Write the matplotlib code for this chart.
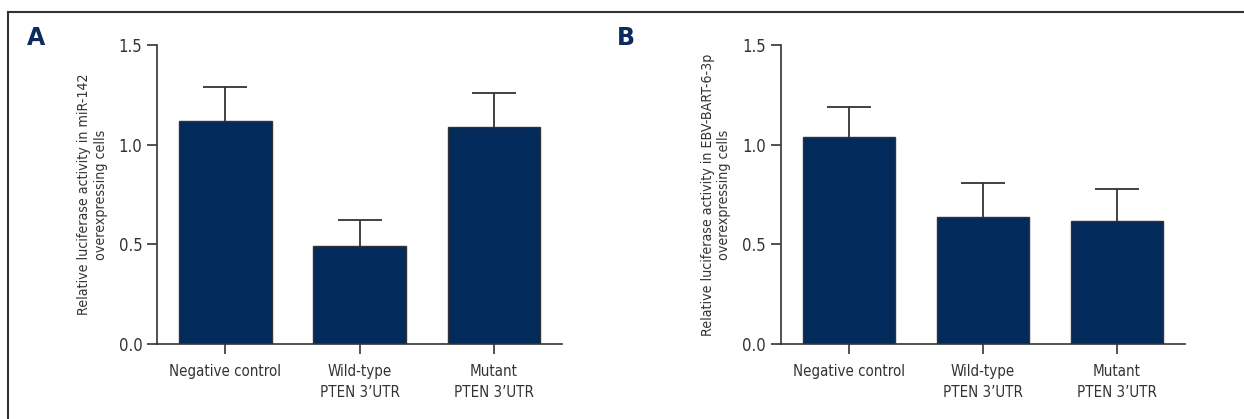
from matplotlib import pyplot as plt
from matplotlib.lines import Line2D

plt.rcParams['font.family'] = ['Liberation Sans Narrow', 'DejaVu Sans']
plt.rcParams['font.stretch'] = 'condensed'

groups = ["Negative control", "Wild-type\nPTEN 3\u2019UTR", "Mutant\nPTEN 3\u2019UTR"]

mir142_mean = [1.12, 0.49, 1.09]
mir142_err = [0.17, 0.13, 0.17]

bart_mean = [1.04, 0.635, 0.615]
bart_err = [0.15, 0.175, 0.165]

ylabel_a = "Relative luciferase activity in miR-142\noverexpressing cells"
ylabel_b = "Relative luciferase activity in EBV-BART-6-3p\noverexpressing cells"

bar_color = "#022a5a"
line_color = "#333333"


def draw_panel(ax, means, errs, ylabel):
    x = range(len(groups))
    ax.bar(x, means, width=0.69, color=bar_color, edgecolor=line_color, linewidth=1.0, zorder=2)
    eb = ax.errorbar(x, means, yerr=[[0] * len(errs), errs], fmt="none", ecolor=line_color,
                     elinewidth=1.3, capsize=16, capthick=1.3, zorder=1)
    eb[1][0].set_visible(False)  # no lower cap
    ax.set_xlim(-0.51, 2.51)
    ax.set_ylim(0, 1.5)
    ax.set_yticks([0.0, 0.5, 1.0, 1.5])
    ax.set_yticklabels(["0.0", "0.5", "1.0", "1.5"])
    ax.set_xticks(list(x))
    ax.set_xticklabels(groups, linespacing=1.45)
    ax.spines["top"].set_visible(False)
    ax.spines["right"].set_visible(False)
    for s in ("left", "bottom"):
        ax.spines[s].set_color(line_color)
        ax.spines[s].set_linewidth(1.2)
    ax.spines["bottom"].set_zorder(3)
    ax.tick_params(axis="y", length=7.5, width=1.2, color=line_color, labelcolor=line_color,
                   labelsize=12, pad=3)
    ax.tick_params(axis="x", length=7.5, width=1.2, color=line_color, labelcolor=line_color,
                   labelsize=10.8, pad=7)
    ax.set_ylabel(ylabel, fontsize=10.2, color=line_color, labelpad=8, linespacing=1.2)


fig = plt.figure(figsize=(12.44, 4.19), dpi=100)

ax_a = fig.add_axes([0.1262, 0.179, 0.3258, 0.7136])
ax_b = fig.add_axes([0.6276, 0.179, 0.3252, 0.7136])

draw_panel(ax_a, mir142_mean, mir142_err, ylabel_a)
draw_panel(ax_b, bart_mean, bart_err, ylabel_b)

fig.text(27 / 1244, 1 - 38 / 419, "A", fontsize=17, fontweight="bold", color="#0b2c5c",
         family="DejaVu Sans", stretch="normal", va="center", ha="left")
fig.text(617 / 1244, 1 - 38 / 419, "B", fontsize=17, fontweight="bold", color="#0b2c5c",
         family="DejaVu Sans", stretch="normal", va="center", ha="left")

# frame round the figure (left and top edges)
fig.add_artist(Line2D([8 / 1244, 8 / 1244], [0, 1 - 12.3 / 419], transform=fig.transFigure,
                      color=line_color, linewidth=1.5))
fig.add_artist(Line2D([8 / 1244, 1], [1 - 12.3 / 419, 1 - 12.3 / 419], transform=fig.transFigure,
                      color=line_color, linewidth=1.5))

fig.savefig("out.png", dpi=100)
